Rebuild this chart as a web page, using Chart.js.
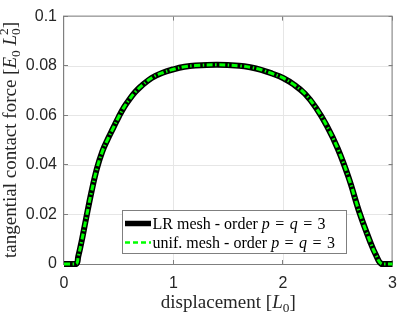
<!DOCTYPE html>
<html>
<head>
<meta charset="utf-8">
<script src="https://cdn.jsdelivr.net/npm/chart.js@4.4.0/dist/chart.umd.min.js"></script>
<style>
  html, body { margin: 0; padding: 0; background: #fff; }
  canvas { display: block; }
</style>
</head>
<body>
<canvas id="main-chart" width="407" height="313"></canvas>
<script>
// data
const displacement = [0, 0.11, 0.13, 0.16, 0.2, 0.25, 0.3, 0.35, 0.4, 0.45, 0.5, 0.55, 0.6, 0.65, 0.7, 0.8, 0.9, 1.0, 1.1, 1.2, 1.4, 1.6, 1.7, 1.8, 1.9, 2.0, 2.1, 2.2, 2.3, 2.4, 2.5, 2.6, 2.7, 2.8, 2.85, 2.9, 3.0];
const forceLR   = [0, 0, 0.003, 0.009, 0.018, 0.029, 0.0385, 0.0455, 0.0505, 0.055, 0.0595, 0.0635, 0.0667, 0.0695, 0.0717, 0.0752, 0.0773, 0.0787, 0.0797, 0.0802, 0.0805, 0.0801, 0.0795, 0.0785, 0.077, 0.0752, 0.0725, 0.0688, 0.0632, 0.0558, 0.0466, 0.0348, 0.0205, 0.0085, 0.0035, 0, 0];
const forceUnif = [0, 0, 0.003, 0.009, 0.018, 0.029, 0.0385, 0.0455, 0.0505, 0.055, 0.0595, 0.0635, 0.0667, 0.0695, 0.0717, 0.0752, 0.0773, 0.0787, 0.0797, 0.0802, 0.0805, 0.0801, 0.0795, 0.0785, 0.077, 0.0752, 0.0725, 0.0688, 0.0632, 0.0558, 0.0466, 0.0348, 0.0205, 0.0085, 0.0035, 0, 0];
const xTicks = [0, 1, 2, 3];
const yTicks = [0, 0.02, 0.04, 0.06, 0.08, 0.1];

const SERIF = "'Liberation Serif', 'Times New Roman', serif";
const SANS = "'Liberation Sans', Arial, sans-serif";
const AXIS_COLOR = '#7f7f7f';
const TEXT_COLOR = '#262626';

const toPoints = (xs, ys) => xs.map((x, i) => ({ x: x, y: ys[i] }));

// width of one piece of text; pad adds math-style spacing around relations
function pieceWidth(ctx, r, size){
    if (r.subsup) {
        ctx.font = (size * 0.7) + 'px ' + SERIF;
        return Math.max(ctx.measureText(r.subsup[0]).width, ctx.measureText(r.subsup[1]).width);
    }
    const s = (r.sub || r.sup) ? size * 0.7 : size;
    ctx.font = (r.it ? 'italic ' : '') + s + 'px ' + SERIF;
    return ctx.measureText(r.t).width + 2 * (r.pad || 0) * size;
}

function runWidth(ctx, runs, size){
    return runs.reduce((w, r) => w + pieceWidth(ctx, r, size), 0);
}

function drawRuns(ctx, runs, x, y, size){
    runs.forEach(r => {
        const w = pieceWidth(ctx, r, size); // also sets ctx.font
        if (r.subsup) {
            ctx.fillText(r.subsup[0], x, y + size * 0.22);
            ctx.fillText(r.subsup[1], x, y - size * 0.42);
        } else {
            const dy = r.sub ? size * 0.22 : (r.sup ? -size * 0.42 : 0);
            ctx.fillText(r.t, x + (r.pad || 0) * size, y + dy);
        }
        x += w;
    });
}

const xTitle = [{ t: 'displacement [' }, { t: 'L', it: true }, { t: '0', sub: true }, { t: ']' }];
const yTitle = [{ t: 'tangential contact force [' }, { t: 'E', it: true }, { t: '0', sub: true },
                { t: ' ' }, { t: 'L', it: true }, { subsup: ['0', '2'] }, { t: ']' }];
const legendRuns = [
    [{ t: 'LR mesh - order ' }, { t: 'p', it: true }, { t: '=', pad: 0.34 }, { t: 'q', it: true }, { t: '=', pad: 0.34 }, { t: '3' }],
    [{ t: 'unif. mesh - order ' }, { t: 'p', it: true }, { t: '=', pad: 0.34 }, { t: 'q', it: true }, { t: '=', pad: 0.34 }, { t: '3' }]
];

// axes box, inward ticks, titles and legend in MATLAB style
const figurePlugin = {
    id: 'figure',
    beforeDatasetsDraw(chart){
        const { ctx, chartArea: a, scales } = chart;
        ctx.save();
        ctx.strokeStyle = AXIS_COLOR;
        ctx.lineWidth = 1;
        ctx.strokeRect(a.left - 0.5, a.top - 0.5, a.right - a.left, a.bottom - a.top + 1);
        const tl = 4;
        ctx.beginPath();
        xTicks.forEach(v => {
            const px = Math.round(scales.x.getPixelForValue(v)) - 0.5;
            ctx.moveTo(px, a.bottom); ctx.lineTo(px, a.bottom - tl);
            ctx.moveTo(px, a.top); ctx.lineTo(px, a.top + tl);
        });
        yTicks.forEach(v => {
            const py = Math.round(scales.y.getPixelForValue(v)) - 0.5;
            ctx.moveTo(a.left, py); ctx.lineTo(a.left + tl, py);
            ctx.moveTo(a.right, py); ctx.lineTo(a.right - tl, py);
        });
        ctx.stroke();
        ctx.restore();
    },
    afterDraw(chart){
        const { ctx, chartArea: a } = chart;
        ctx.save();
        ctx.fillStyle = TEXT_COLOR;
        ctx.textBaseline = 'alphabetic';
        ctx.textAlign = 'left';

        // x title
        const ts = 19;
        const xw = runWidth(ctx, xTitle, ts);
        drawRuns(ctx, xTitle, (a.left + a.right) / 2 - xw / 2, 307.5, ts);

        // y title
        const yw = runWidth(ctx, yTitle, ts);
        ctx.save();
        ctx.translate(15.5, 140);
        ctx.rotate(-Math.PI / 2);
        drawRuns(ctx, yTitle, -yw / 2, 0, ts);
        ctx.restore();

        // legend
        const box = { x: 122, y: 210, w: 224, h: 43 };
        ctx.fillStyle = '#fff';
        ctx.fillRect(box.x, box.y, box.w, box.h);
        ctx.strokeStyle = AXIS_COLOR;
        ctx.lineWidth = 1;
        ctx.strokeRect(box.x + 0.5, box.y + 0.5, box.w, box.h);
        const rows = [223.5, 242.5];
        chart.data.datasets.forEach((ds, i) => {
            const yy = rows[i];
            ctx.save();
            ctx.strokeStyle = ds.borderColor;
            ctx.lineWidth = ds.legendWidth;
            ctx.setLineDash(ds.legendDash || []);
            ctx.beginPath();
            ctx.moveTo(125, yy); ctx.lineTo(151, yy);
            ctx.stroke();
            ctx.restore();
            ctx.fillStyle = '#000';
            drawRuns(ctx, legendRuns[i], 152.5, yy + 5, 16);
        });
        ctx.restore();
    }
};

const ctx = document.getElementById('main-chart').getContext('2d');
new Chart(ctx, {
    type: 'line',
    data: {
        datasets: [
            {
                label: 'LR mesh - order p = q = 3',
                data: toPoints(displacement, forceLR),
                borderColor: '#000000',
                borderWidth: 6,
                legendWidth: 5.5,
                pointRadius: 0,
                tension: 0.4,
                clip: 10,
                order: 2
            },
            {
                label: 'unif. mesh - order p = q = 3',
                data: toPoints(displacement, forceUnif),
                borderColor: '#00ff00',
                borderWidth: 3,
                legendWidth: 2.5,
                borderDash: [6, 2.5, 1.5, 2.5],
                legendDash: [5, 3],
                pointRadius: 0,
                tension: 0.4,
                clip: 10,
                order: 1
            }
        ]
    },
    options: {
        responsive: false,
        animation: false,
        layout: { padding: { top: 5, right: 4, left: 0, bottom: 0 } },
        scales: {
            x: {
                type: 'linear',
                min: 0, max: 3,
                afterFit: s => { s.height = 49; },
                afterBuildTicks: s => { s.ticks = xTicks.map(v => ({ value: v })); },
                ticks: { color: TEXT_COLOR, font: { family: SANS, size: 16 }, padding: 10, maxRotation: 0,
                         callback: v => String(v) },
                grid: { color: '#e6e6e6', drawTicks: false },
                border: { display: false }
            },
            y: {
                min: 0, max: 0.1,
                afterFit: s => { s.width = 64; },
                afterBuildTicks: s => { s.ticks = yTicks.map(v => ({ value: v })); },
                ticks: { color: TEXT_COLOR, font: { family: SANS, size: 16 }, padding: 7,
                         callback: v => String(+v.toFixed(2)) },
                grid: { color: '#e6e6e6', drawTicks: false },
                border: { display: false }
            }
        },
        plugins: {
            legend: { display: false },
            tooltip: { enabled: false }
        }
    },
    plugins: [figurePlugin]
});
</script>
</body>
</html>
